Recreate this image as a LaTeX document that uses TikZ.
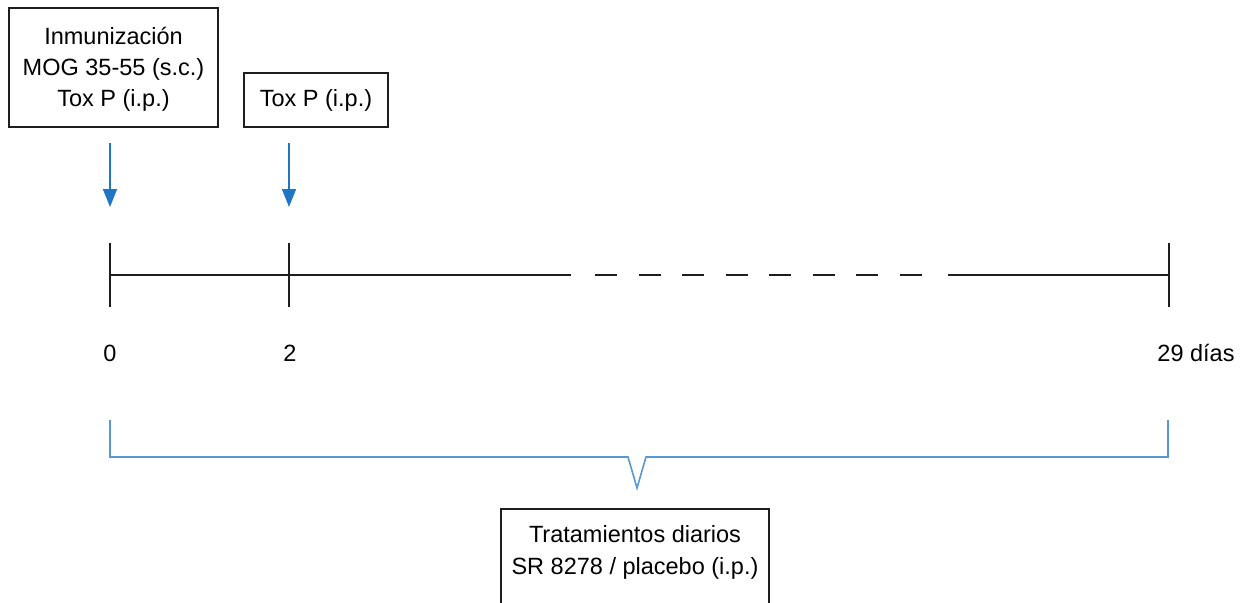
\documentclass[tikz,border=0pt]{standalone}
\usepackage{fontspec}
\setmainfont{Liberation Sans}
\usetikzlibrary{arrows.meta}
\definecolor{arrowblue}{RGB}{31,119,196}
\definecolor{braceblue}{RGB}{88,152,210}
\definecolor{ink}{RGB}{30,30,30}
\begin{document}
\begin{tikzpicture}[x=1pt,y=-1pt,
  box/.style={draw=ink, line width=1.4pt, align=center, inner sep=0pt,
    font=\fontsize{23.5}{31}\selectfont},
  txt/.style={align=center, inner sep=0pt, font=\fontsize{23.5}{32}\selectfont},
  lbl/.style={inner sep=0pt, font=\fontsize{23.5}{28}\selectfont, anchor=base},
  tl/.style={draw=ink, line width=1.5pt},
  frame/.style={draw=ink, line width=1.4pt},
  blarrow/.style={draw=arrowblue, line width=1.6pt, -{Triangle[length=18pt,width=14pt]}},
  bracestyle/.style={draw=braceblue, line width=1.6pt, line join=miter}]
\useasboundingbox[fill=white] (0,0) rectangle (1244,602);
% top boxes
\draw[box] (9,8) rectangle (218,127);
\node[box, draw=none, minimum width=209pt, minimum height=119pt] (imm) at (113.5,69.5)
  {Inmunización\\MOG 35-55 (s.c.)\\Tox P (i.p.)};
\node[box, minimum width=144pt, minimum height=54pt] (tox) at (316,100) {Tox P (i.p.)};
% arrows
\coordinate (a0s) at (110,143);
\coordinate (a0e) at (110,207);
\coordinate (a2s) at (289,143);
\coordinate (a2e) at (289,207);
\draw[blarrow] (a0s) -- (a0e);
\draw[blarrow] (a2s) -- (a2e);
% timeline
\coordinate (t0) at (110,275);
\coordinate (t2) at (289,275);
\coordinate (t29) at (1169,275);
\coordinate (s1) at (571,275);
\coordinate (d1) at (595,275);
\coordinate (d2) at (921.5,275);
\coordinate (s2) at (948,275);
\draw[tl] (t0) -- (s1);
\draw[tl, dash pattern=on 22pt off 21.5pt] (d1) -- (d2);
\draw[tl] (s2) -- (t29);
\draw[tl] (t0) ++(0,-32) -- ++(0,64);
\draw[tl] (t2) ++(0,-32) -- ++(0,64);
\draw[tl] (t29) ++(0,-32) -- ++(0,64);
% labels
\node[lbl] (l0) at (110,361) {0};
\node[lbl] (l2) at (290,361) {2};
\node[lbl] (l29) at (1196,361) {29 días};
% brace
\coordinate (bl) at (110,420);
\coordinate (blb) at (110,457);
\coordinate (vl) at (628,457);
\coordinate (vt) at (637,488);
\coordinate (vr) at (646,457);
\coordinate (brb) at (1168,457);
\coordinate (br) at (1168,420);
\draw[bracestyle] (bl) -- (blb) -- (vl) -- (vt) -- (vr) -- (brb) -- (br);
% bottom box
\coordinate (fbl) at (501,615);
\coordinate (ftl) at (501,509);
\coordinate (ftr) at (769,509);
\coordinate (fbr) at (769,615);
\draw[frame] (fbl) -- (ftl) -- (ftr) -- (fbr);
\node[txt] (trat) at (635,552) {Tratamientos diarios\\SR 8278 / placebo (i.p.)};
\end{tikzpicture}
\end{document}
